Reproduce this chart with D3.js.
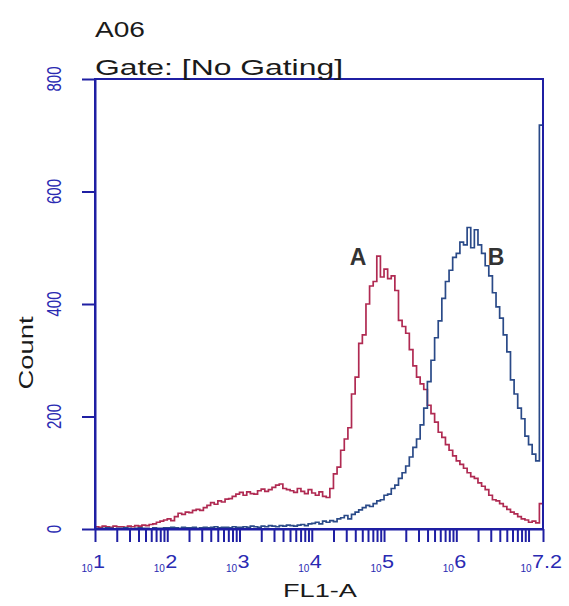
<!DOCTYPE html>
<html><head><meta charset="utf-8">
<script src="https://cdn.jsdelivr.net/npm/d3@7"></script>
<style>body{margin:0;background:#fff}svg{display:block}</style></head>
<body><svg id="c" width="569" height="606"></svg>
<script>
// ---- data (log10 channel of each bin start, bin width 0.05 decade) ----
const binStartExp = 1.0;
const binWidthExp = 0.05;
const endExp = 7.2;
const seriesNames = ["A", "B"];
const countsA = [
  4,3,5,4,3,5,4,4,3,5, 4,6,5,7,6,8,9,12,14,16,
  18,15,22,28,26,30,29,33,35,33, 38,42,47,44,50,48,53,54,58,62,
  65,60,66,63,62,68,71,67,70,74, 78,80,72,70,68,65,72,67,63,70,
  64,60,66,58,56,72,98,110,140,160, 180,240,270,330,345,400,432,440,485,448,
  462,445,450,424,371,360,348,319,290,270, 258,248,220,205,190,172,163,150,140,130,
  121,115,108,100,93,90,82,76,70,60, 52,50,45,40,35,30,27,22,18,16,
  12,14,11,45
];
const countsB = [
  1,0,1,2,1,0,1,1,2,1, 0,1,2,1,1,0,2,1,1,2,
  2,3,2,1,3,2,2,3,1,2, 3,2,3,4,2,3,3,2,4,3,
  3,4,3,5,4,3,5,4,6,5, 4,6,5,7,6,5,7,8,6,9,
  10,12,9,14,12,15,13,18,20,24, 18,26,30,34,38,42,40,45,50,52,
  60,62,72,78,90,100,112,128,145,160, 185,215,262,300,340,370,410,440,460,483,
  490,510,505,536,500,532,505,490,468,450, 420,395,375,345,315,265,240,215,196,165,
  150,133,121,718
];
const yTickValues = [0, 200, 400, 600, 800];
const xDecadeExps = [1, 2, 3, 4, 5, 6];
const xLabelExps = [1, 2, 3, 4, 5, 6, 7.2];
const xLabelTexts = ["1", "2", "3", "4", "5", "6", "7.2"];
const titleText = "A06";
const gateText = "Gate: [No Gating]";
const xTitle = "FL1-A";
const yTitle = "Count";

// ---- layout ----
const L = 95, R = 543, T = 79, B = 529;
const navy = "#1f1fa3", tickBlue = "#2a2ab2";
const colA = "#b02a52", colB = "#2a4a88";
const font = "'Liberation Sans', Arial, sans-serif";

const svg = d3.select("#c");
const x = d3.scaleLog().domain([10 ** binStartExp, 10 ** endExp]).range([L, R]);
const y = d3.scaleLinear().domain([0, 800]).range([B, T]);

// ---- curves ----
function pts(counts) {
  const p = counts.map((c, i) => [10 ** (binStartExp + i * binWidthExp), c]);
  p.push([10 ** endExp, counts[counts.length - 1]]);
  return p;
}
const line = d3.line().x(d => x(d[0])).y(d => y(d[1])).curve(d3.curveStepAfter);
[[countsA, colA], [countsB, colB]].forEach(([c, col]) => {
  svg.append("path").attr("d", line(pts(c))).attr("fill", "none")
    .attr("stroke", col).attr("stroke-width", 1.7).attr("stroke-linejoin", "miter");
});

// ---- frame ----
svg.append("rect").attr("x", L).attr("y", T).attr("width", R - L).attr("height", B - T)
  .attr("fill", "none").attr("stroke", navy).attr("stroke-width", 2);

// ---- y axis ----
const ya = svg.append("g").attr("transform", `translate(${L},0)`)
  .call(d3.axisLeft(y).tickValues(yTickValues).tickSize(13).tickSizeOuter(0).tickFormat(""));
ya.select(".domain").attr("stroke", navy).attr("stroke-width", 2);
ya.selectAll(".tick line").attr("stroke", navy).attr("stroke-width", 2);
svg.selectAll(".ylab").data(yTickValues).join("text")
  .attr("transform", d => `translate(61,${y(d)}) rotate(-90) scale(1,1.3)`)
  .attr("text-anchor", "middle").attr("font-family", font).attr("font-size", 15)
  .attr("fill", tickBlue).text(d => d);

// ---- x axis ----
const minor = [];
xDecadeExps.forEach(e => { for (let m = 1; m <= 9; m++) minor.push(m * 10 ** e); });
minor.push(10 ** 7, 10 ** endExp);
const xa = svg.append("g").attr("transform", `translate(0,${B})`)
  .call(d3.axisBottom(x).tickValues(minor).tickSize(13).tickSizeOuter(0).tickFormat(""));
xa.select(".domain").attr("stroke", navy).attr("stroke-width", 2);
xa.selectAll(".tick line").attr("stroke", navy).attr("stroke-width", 2);

xLabelExps.forEach((e, i) => {
  const t = x(10 ** e);
  const g = svg.append("g").attr("transform", `translate(${t + 4},0)`);
  const ex = g.append("text").attr("text-anchor", "middle").attr("y", 568)
    .attr("font-family", font).attr("font-size", 18).attr("fill", tickBlue)
    .attr("transform", "scale(1.2,1)").text(xLabelTexts[i]);
  const w = ex.node().getComputedTextLength() * 1.2;
  g.append("text").attr("text-anchor", "end").attr("x", -w / 2 - 0.5).attr("y", 572)
    .attr("font-family", font).attr("font-size", 10).attr("fill", tickBlue).text("10");
});

// ---- titles ----
svg.append("text").attr("x", L).attr("y", 37).attr("font-family", font).attr("font-size", 22)
  .attr("fill", "#1a1a1a").attr("textLength", 50).attr("lengthAdjust", "spacingAndGlyphs").text(titleText);
svg.append("text").attr("x", L).attr("y", 75).attr("font-family", font).attr("font-size", 22)
  .attr("fill", "#1a1a1a").attr("textLength", 248).attr("lengthAdjust", "spacingAndGlyphs").text(gateText);
svg.append("text").attr("x", 283).attr("y", 597).attr("font-family", font).attr("font-size", 19)
  .attr("fill", "#1a1a1a").attr("textLength", 74).attr("lengthAdjust", "spacingAndGlyphs").text(xTitle);
svg.append("text").attr("transform", "translate(33,353) rotate(-90)").attr("text-anchor", "middle")
  .attr("font-family", font).attr("font-size", 21).attr("fill", "#1a1a1a")
  .attr("textLength", 73).attr("lengthAdjust", "spacingAndGlyphs").text(yTitle);

// ---- series labels ----
const labelPos = [[10 ** 4.64, 470], [10 ** 6.55, 470]];
seriesNames.forEach((n, i) => {
  svg.append("text").attr("x", x(labelPos[i][0])).attr("y", y(labelPos[i][1]))
    .attr("text-anchor", "middle").attr("font-family", font).attr("font-size", 23)
    .attr("font-weight", "bold").attr("fill", "#333").text(n);
});
</script></body></html>
